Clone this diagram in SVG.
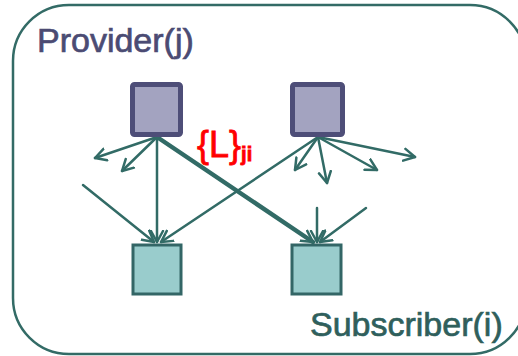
<svg xmlns="http://www.w3.org/2000/svg" width="518" height="356" viewBox="0 0 518 356">
<defs>
<marker id="ah" markerUnits="userSpaceOnUse" markerWidth="16" markerHeight="16" refX="12" refY="7" orient="auto" viewBox="0 0 16 14">
<path d="M1,1 L12,7 L1,13" fill="none" stroke="#326b66" stroke-width="2.5" stroke-linecap="round" stroke-linejoin="round"/>
</marker>
</defs>
<style>
.frame{fill:#fff;stroke:#336b66;stroke-width:2.5}
.prov{fill:#a3a3c0;stroke:#4e4e78;stroke-width:5}
.sub{fill:#99cccc;stroke:#336666;stroke-width:3}
.c{stroke:#326b66;stroke-width:2.5;fill:none;marker-end:url(#ah);stroke-linecap:round}
.thick{stroke-width:4.5}
.lbl{font-family:"Liberation Sans",Arial,sans-serif;font-size:34px;stroke-width:0.7}
</style>
<rect class="frame" x="13" y="5" width="513" height="349" rx="56" ry="56"/>
<text class="lbl" x="37" y="52" fill="#4b4b73" stroke="#4b4b73">Provider(j)</text>
<text class="lbl" x="310" y="336" fill="#2f5f5c" stroke="#2f5f5c">Subscriber(i)</text>
<g id="connectors">
<line class="c" x1="157" y1="137" x2="95" y2="158"/>
<line class="c" x1="157" y1="137" x2="122" y2="171"/>
<line class="c" x1="157" y1="137" x2="157" y2="242"/>
<line class="c thick" x1="157" y1="137" x2="313" y2="242"/>
<line class="c" x1="318" y1="137" x2="161" y2="242"/>
<line class="c" x1="318" y1="137" x2="295" y2="170"/>
<line class="c" x1="318" y1="137" x2="327" y2="183"/>
<line class="c" x1="318" y1="137" x2="377" y2="170"/>
<line class="c" x1="318" y1="137" x2="415" y2="157"/>
<line class="c" x1="83" y1="185" x2="154" y2="242"/>
<line class="c" x1="317" y1="208" x2="317" y2="242"/>
<line class="c" x1="366" y1="208" x2="320" y2="242"/>
</g>
<g id="provider1"><rect class="prov" x="132.5" y="84.5" width="48" height="50" rx="2"/></g>
<g id="provider2"><rect class="prov" x="292.5" y="84.5" width="50" height="50" rx="2"/></g>
<g id="subscriber1"><rect class="sub" x="133" y="245" width="48" height="49"/></g>
<g id="subscriber2"><rect class="sub" x="292" y="245" width="49" height="49"/></g>
<g id="label-L">
<text x="197" y="157" fill="#ff0000" stroke="#ff0000" stroke-width="0.8" font-family="'Liberation Sans',Arial,sans-serif" font-size="36">{L}<tspan font-size="20" font-weight="bold" dy="4">ji</tspan></text>
</g>
</svg>
